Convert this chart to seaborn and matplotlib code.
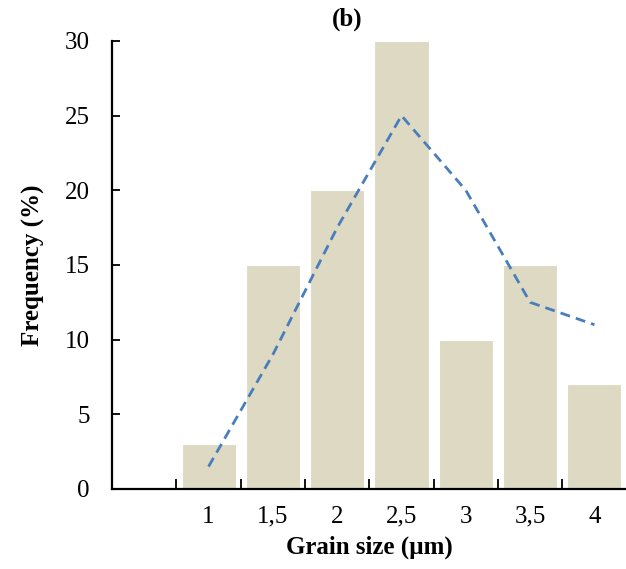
import pandas as pd
import seaborn as sns
import matplotlib.pyplot as plt
from matplotlib.ticker import FixedLocator

# Grain size classes (first slot is left empty in the original chart)
sizes = ["", "1", "1,5", "2", "2,5", "3", "3,5", "4"]
frequency = [0, 3, 15, 20, 30, 10, 15, 7]

# Dashed trend line (2-point moving average)
trend_sizes = ["1", "1,5", "2", "2,5", "3", "3,5", "4"]
trend_values = [1.5, 9, 17.5, 25, 20, 12.5, 11]

df = pd.DataFrame({"size": sizes, "freq": frequency})
trend_df = pd.DataFrame({"pos": [sizes.index(s) for s in trend_sizes], "freq": trend_values})

sns.set_theme(style="white")
plt.rcParams["font.family"] = ["Liberation Serif", "DejaVu Serif"]
plt.rcParams["text.color"] = "black"
plt.rcParams["axes.labelcolor"] = "black"
plt.rcParams["xtick.color"] = "black"
plt.rcParams["ytick.color"] = "black"

fig = plt.figure(figsize=(6.26, 5.69), dpi=100)
ax = fig.add_axes([0.179, 0.1406, 0.822, 0.7874])

sns.barplot(data=df, x="size", y="freq", order=sizes, color="#ddd9c3",
            saturation=1, width=0.84, edgecolor="white", linewidth=0.8, ax=ax)
sns.lineplot(data=trend_df, x="pos", y="freq", color="#4a7ebb", linewidth=2,
             linestyle=(0, (3.6, 2.2)), ax=ax)

ax.set_xlim(-0.5, 7.5)
ax.set_ylim(0, 30)
ax.set_yticks([0, 5, 10, 15, 20, 25, 30])

# boundary ticks between categories, labels at category centres
ax.xaxis.set_major_locator(FixedLocator([i + 0.5 for i in range(7)]))
ax.xaxis.set_major_formatter(plt.NullFormatter())
ax.xaxis.set_minor_locator(FixedLocator(range(len(sizes))))
ax.set_xticklabels(sizes, minor=True)
ax.tick_params(axis="x", which="major", direction="in", length=7, width=1.3, color="black", bottom=True)
ax.tick_params(axis="x", which="minor", length=0, pad=12, labelsize=18, bottom=True)
ax.tick_params(axis="y", direction="in", length=6, width=1.3, color="black", left=True,
               pad=16, labelsize=18)

for side in ["top", "right"]:
    ax.spines[side].set_visible(False)
for side in ["left", "bottom"]:
    ax.spines[side].set_color("black")
    ax.spines[side].set_linewidth(1.6)

ax.set_xlabel("Grain size (µm)", fontsize=18, fontweight="bold", labelpad=6)
ax.set_ylabel("Frequency (%)", fontsize=18, fontweight="bold", labelpad=14)
ax.set_title("(b)", fontsize=18, fontweight="bold", pad=11, x=0.457)

plt.savefig("out.png", dpi=100)
plt.close()
